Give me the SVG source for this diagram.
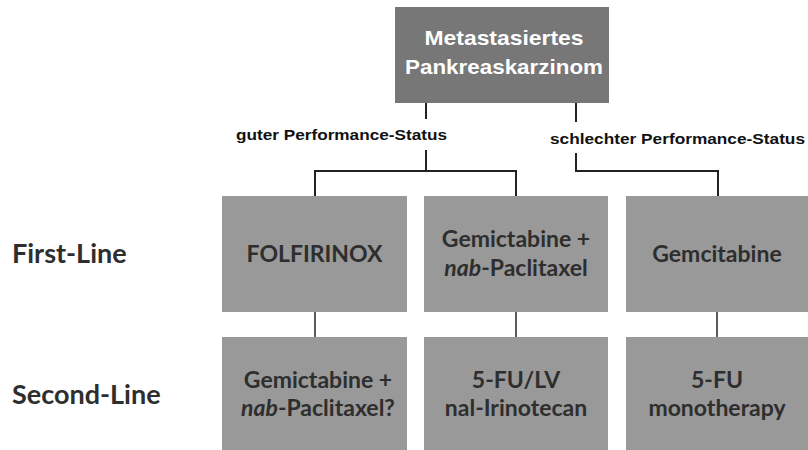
<svg xmlns="http://www.w3.org/2000/svg" width="808" height="450" viewBox="0 0 808 450">
  <style>
    .top { fill: #777777; }
    .box { fill: #999999; }
    .toptxt { font-family: "Liberation Sans", Arial, sans-serif; font-weight: bold; font-size: 21px; fill: #ffffff; text-anchor: middle; }
    .lbl { font-family: "Liberation Sans", Arial, sans-serif; font-weight: bold; font-size: 15.5px; fill: #111111; }
    .txt { font-family: Lato, "Open Sans", sans-serif; font-weight: bold; font-size: 23px; fill: #2e2e2e; text-anchor: middle; }
    .row { font-family: Lato, "Open Sans", sans-serif; font-weight: bold; font-size: 27px; fill: #2e2e2e; }
    .conn { fill: none; stroke: #222222; stroke-width: 2; }
    .conn2 { fill: none; stroke: #333333; stroke-width: 1.6; }
  </style>
  <rect width="808" height="450" fill="#ffffff"/>

  <g id="connectors">
    <path class="conn" d="M426,103 V119 M426,150 V171 H315 V197 M426,171 H516 V197"/>
    <path class="conn" d="M576,103 V122 M576,153 V171 H718 V197"/>
    <path class="conn2" d="M315,312 V337 M516,312 V337 M717,312 V337"/>
    <text class="lbl" x="236" y="140" textLength="211" lengthAdjust="spacingAndGlyphs">guter Performance-Status</text>
    <text class="lbl" x="550" y="144" textLength="255" lengthAdjust="spacingAndGlyphs">schlechter Performance-Status</text>
  </g>

  <g id="root">
    <rect class="top" x="395" y="7" width="214" height="96"/>
    <text class="toptxt" x="504" y="45" textLength="159" lengthAdjust="spacingAndGlyphs">Metastasiertes</text>
    <text class="toptxt" x="504" y="74" textLength="198" lengthAdjust="spacingAndGlyphs">Pankreaskarzinom</text>
  </g>

  <g id="label-first">
    <text class="row" x="12" y="263">First-Line</text>
  </g>
  <g id="label-second">
    <text class="row" x="12" y="404">Second-Line</text>
  </g>

  <g id="folfirinox">
    <rect class="box" x="222" y="196" width="185" height="116"/>
    <text class="txt" x="314.5" y="262">FOLFIRINOX</text>
  </g>
  <g id="gem-nab">
    <rect class="box" x="424" y="196" width="184" height="116"/>
    <text class="txt" x="516" y="247">Gemictabine +</text>
    <text class="txt" x="516" y="276"><tspan font-style="italic">nab</tspan>-Paclitaxel</text>
  </g>
  <g id="gemcitabine">
    <rect class="box" x="626" y="196" width="182" height="116"/>
    <text class="txt" x="717" y="262">Gemcitabine</text>
  </g>

  <g id="second-gem-nab">
    <rect class="box" x="222" y="337" width="185" height="116"/>
    <text class="txt" x="318" y="388">Gemictabine +</text>
    <text class="txt" x="318" y="416"><tspan font-style="italic">nab</tspan>-Paclitaxel?</text>
  </g>
  <g id="fu-lv-nal">
    <rect class="box" x="424" y="337" width="184" height="116"/>
    <text class="txt" x="516" y="388">5-FU/LV</text>
    <text class="txt" x="516" y="416">nal-Irinotecan</text>
  </g>
  <g id="fu-mono">
    <rect class="box" x="626" y="337" width="182" height="116"/>
    <text class="txt" x="717" y="388">5-FU</text>
    <text class="txt" x="717" y="416">monotherapy</text>
  </g>
</svg>
